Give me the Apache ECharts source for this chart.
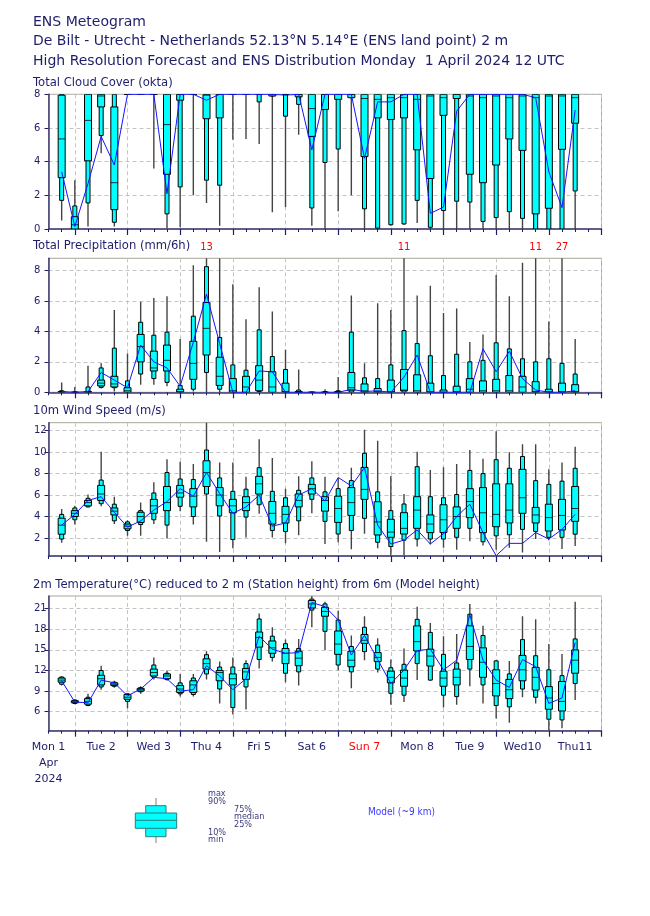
<!DOCTYPE html>
<html><head><meta charset="utf-8">
<script src="https://cdn.jsdelivr.net/npm/echarts@6/dist/echarts.min.js"></script>
<style>html,body{margin:0;padding:0;background:#fff}#c{width:650px;height:916px}</style>
</head><body><div id="c"></div>
<script>
// Forecast steps (hours after Mon 1 April 2024 12 UTC)
const steps = ['0','6','12','18','24','30','36','42','48','54','60','66','72','78','84','90','96','102','108','114','120','126','132','138','144','150','156','162','168','174','180','186','192','198','204','210','216','222','228','234','240','246','252'];
const dayLabels = ['Mon 1','Tue 2','Wed 3','Thu 4','Fri 5','Sat 6','Sun 7','Mon 8','Tue 9','Wed10','Thu11'];
const cloudTicks = [0,2,4,6,8];
const precipTicks = [0,2,4,6,8];
const windTicks = [2,4,6,8,10,12];
const tempTicks = [6,9,12,15,18,21];

// ENS distribution rows: [min, p10, p25, median, p75, p90, max] for steps 6h..240h
const cloudBoxes = [
[0.5,1.7,3.05,5.35,7.95,8,8],[0,0,0,0.25,0.73,1.37,2.9],[0.15,1.55,4.05,6.45,8,8,8],[4.5,5.55,7.25,7.9,8,8,8],
[0.15,0.4,1.15,2.75,7.25,8,8],[8,8,8,8,8,8,8],[8,8,8,8,8,8,8],[3.6,8,8,8,8,8,8],
[0.05,0.9,3.25,6.2,8,8,8],[0.1,2.5,7.65,8,8,8,8],[2.0,8,8,8,8,8,8],[1.55,2.9,6.55,7.95,8,8,8],
[0.2,2.6,6.6,8,8,8,8],[5.3,8,8,8,8,8,8],[5.35,8,8,8,8,8,8],[5.05,7.55,8,8,8,8,8],
[1.0,7.9,7.9,8,8,8,8],[1.3,6.7,8,8,8,8,8],[5.6,7.4,7.85,8,8,8,8],[0.2,1.25,5.5,7.15,8,8,8],
[0,3.95,7.1,8,8,8,8],[1.05,4.75,7.7,8,8,8,8],[2.0,7.8,7.8,8,8,8,8],[0,1.2,4.3,7.75,8,8,8],
[0,0.05,6.6,7.7,8,8,8],[0.2,0.25,6.5,7.8,8,8,8],[0.25,0.3,6.6,7.8,8,8,8],[0.35,1.7,4.7,7.7,8,8,8],
[0,0.1,3.0,7.9,8,8,8],[0,1.1,6.75,7.8,8,8,8],[0,1.65,7.75,8,8,8,8],[0,1.6,3.25,7.9,8,8,8],
[0,0.45,2.75,7.8,8,8,8],[0,0.68,3.8,7.9,8,8,8],[0,1.03,5.35,7.8,8,8,8],[0,0.63,4.67,7.9,8,8,8],
[0,0,0.9,7.8,8,8,8],[0,0,1.23,7.9,8,8,8],[0,0,4.73,7.9,8,8,8],[0,2.26,6.28,7.8,8,8,8]
];
const cloudHres = [3.4,0.15,2.7,5.5,3.8,8,8,8,2.1,8,8,7.65,8,8,8,8,8,7.95,8,4.7,8,8,8,4.2,7.55,7.55,8,8,0.93,1.3,7.0,8,8,8,8,8,7.8,3.4,1.27,7.07];

const precipBoxes = [
[0,0,0,0.02,0.05,0.1,0.65],[0,0,0,0,0,0.02,0.35],[0,0,0,0,0.05,0.35,1.75],[0.25,0.32,0.42,0.6,0.8,1.6,1.9],
[0.05,0.3,0.35,0.55,1.05,2.9,5.4],[0,0,0,0.1,0.3,0.75,2.55],[0.5,1.2,2.0,3.0,3.8,4.6,5.95],[0.5,0.9,1.4,1.6,2.7,3.75,6.2],
[0.4,0.65,1.4,2.1,3.1,3.95,6.3],[0,0,0,0.05,0.2,0.45,3.5],[0.05,0.2,0.85,1.9,3.35,5.0,8.35],[0,1.3,2.45,4.2,5.9,8.25,13],
[0,0.2,0.45,1.05,2.3,3.6,8.8],[0,0,0,0.1,0.9,1.8,7.1],[0,0,0,0.35,1.05,1.45,4.8],[0,0.05,0.1,0.8,1.75,4.1,6.9],
[0,0,0,0.35,1.35,2.35,5.3],[0,0,0,0.05,0.6,1.5,2.8],[0,0,0,0,0.05,0.15,1.5],[0,0,0,0,0,0,0.05],
[0,0,0,0,0,0.05,0.2],[0,0,0,0,0.05,0.1,1.0],[0,0,0.1,0.3,1.3,3.95,6.35],[0,0,0,0.1,0.55,0.95,1.9],
[0,0,0,0.05,0.25,0.9,5.85],[0,0,0,0.05,0.8,1.8,5.4],[0,0,0.1,0.15,1.5,4.05,11],[0,0,0,0.1,1.15,3.2,6.35],
[0,0,0,0.05,0.6,2.4,7.0],[0,0,0,0,0.15,1.1,5.2],[0,0,0,0.05,0.4,2.5,5.5],[0,0,0,0.2,0.9,2.0,3.3],
[0,0,0,0.1,0.75,2.1,3.8],[0,0,0,0.1,0.85,3.25,7.7],[0,0,0,0.1,1.1,2.85,6.3],[0,0,0,0.35,1.05,2.2,8.5],
[0,0,0,0.05,0.7,2.0,11],[0,0,0,0.05,0.2,2.2,4.65],[0,0,0,0.05,0.6,1.9,27],[0,0,0,0.05,0.5,1.2,3.5]
];
const precipHres = [0.05,0,0.05,1.3,0.8,0.3,3.1,2.0,1.6,0.4,3.3,6.45,3.2,0,0,1.4,1.35,0,0,0,0,0,0.2,0.05,0.1,0,1.0,2.45,0,0,0,0,2.85,1.35,2.7,0.9,0.15,0,0,0.1];

const windBoxes = [
[1.55,1.9,2.35,3.2,3.85,4.2,4.7],[3.25,3.7,4.0,4.3,4.55,4.8,5.0],[4.85,4.9,5.0,5.3,5.5,5.7,6.05],[4.95,5.2,5.5,6.1,6.9,7.4,10.05],
[3.3,3.6,4.15,4.5,4.8,5.15,5.85],[2.2,2.7,2.85,3.1,3.3,3.5,3.65],[2.2,3.25,3.45,4.0,4.4,4.55,5.3],[3.3,3.7,4.3,5.0,5.6,6.2,7.2],
[1.95,3.2,4.55,5.3,6.8,8.1,9.35],[4.5,4.95,5.8,6.2,6.9,7.5,9.1],[3.25,4.0,4.9,5.9,6.6,7.45,8.9],[1.65,6.1,6.8,8.1,9.2,10.2,13],
[0.7,4.05,5.0,6.0,6.7,7.6,9.05],[1.05,1.85,4.35,5.0,5.6,6.35,9.05],[2.05,3.95,4.55,5.3,5.85,6.55,7.7],[4.25,5.1,6.1,7.05,7.75,8.55,11.2],
[2.05,2.7,3.3,4.3,5.4,6.35,9.45],[1.5,2.6,3.4,4.2,4.95,5.75,6.6],[2.25,3.6,4.9,5.5,6.1,6.45,7.75],[4.3,5.6,6.1,6.6,7.0,7.6,9.15],
[1.45,3.55,4.5,5.5,5.85,6.3,7.7],[1.6,2.37,3.45,4.75,5.9,6.6,7.6],[0.95,2.7,4.1,5.3,6.7,7.35,8.55],[2.4,3.83,5.6,6.53,8.58,9.9,12.1],
[1.04,1.6,2.28,3.5,5.38,6.3,11.07],[0.4,1.2,2.06,2.55,3.74,4.55,7.78],[0.4,1.8,2.37,2.9,4.36,5.17,6.1],[1.2,1.9,2.9,4.6,5.85,8.65,10.04],
[1.4,1.9,2.5,3.3,4.15,5.85,8.35],[1.1,1.9,2.5,3.7,5.1,5.75,8.6],[0.9,2.06,2.9,4.0,4.9,6.05,8.9],[1.7,2.9,3.9,5.4,6.6,8.3,10.2],
[1.3,1.65,2.5,4.35,6.7,8.0,9.4],[0.9,2.2,3.05,4.2,7.05,9.3,11.95],[1.1,2.3,3.4,4.6,7.05,8.5,10.0],[0.65,2.8,4.3,5.75,8.4,9.6,10.75],
[1.9,2.6,3.4,4.15,4.85,7.35,10.75],[1.8,2.06,2.65,3.9,5.15,7.0,8.4],[0.97,2.06,2.75,4.1,5.6,7.3,9.05],[1.25,2.35,3.55,4.75,6.8,8.5,10.5]
];
const windHres = [3.2,4.2,5.5,5.85,4.4,3.0,3.6,4.6,5.4,6.6,5.9,8.1,6.15,4.3,4.9,6.0,3.1,3.4,6.0,6.6,5.45,7.65,6.85,8.55,3.2,1.44,1.8,2.75,1.44,2.4,4.0,5.15,2.5,0.35,1.5,1.5,2.5,1.9,2.8,4.2];

const tempBoxes = [
[9.8,10.0,10.3,10.6,10.9,11.05,11.15],[7.1,7.2,7.3,7.45,7.6,7.7,7.8],[6.8,6.9,7.1,7.5,7.9,8.1,8.6],[9.2,9.6,9.9,10.8,11.3,12.0,12.7],
[9.5,9.7,9.8,10.0,10.2,10.3,10.5],[6.5,7.5,7.8,8.1,8.5,8.6,8.7],[8.6,8.9,9.0,9.2,9.4,9.5,9.7],[10.7,11.0,11.2,11.7,12.2,12.8,13.9],
[10.5,10.7,10.8,11.2,11.5,11.6,12.0],[8.2,8.6,8.8,9.3,9.8,10.2,11.5],[8.2,8.5,8.8,9.9,10.5,10.9,11.5],[10.7,11.5,12.2,13.0,13.7,14.3,14.8],
[7.2,9.3,10.5,11.7,12.0,12.5,13.3],[5.6,6.6,9.9,10.8,11.5,12.5,13.9],[6.3,9.6,10.7,11.8,12.3,13.0,13.5],[12.3,13.6,15.4,16.8,17.6,19.5,20.3],
[13.3,13.9,14.5,15.3,16.3,17.0,18.3],[10.3,11.6,13.0,14.5,15.2,15.9,16.5],[9.8,11.8,12.7,13.8,14.8,15.2,16.6],[18.3,20.8,21.1,21.7,22.2,22.4,22.9],
[15.0,17.7,19.9,20.6,21.2,21.7,22.0],[12.05,12.8,14.35,15.85,17.75,19.35,20.7],[9.4,11.8,12.55,13.5,14.8,15.5,17.1],[13.5,14.75,15.95,16.4,17.25,18.3,19.9],
[11.7,12.2,13.3,13.9,14.6,15.7,16.7],[7.0,8.67,10.2,11.0,11.9,12.4,13.6],[7.4,8.4,9.7,10.9,12.05,12.9,15.2],[10.6,13.0,14.85,16.2,18.5,19.45,21.3],
[10.5,10.6,12.65,14.1,15.1,17.55,18.9],[6.6,8.4,9.7,10.9,11.9,14.35,17.0],[7.0,8.2,9.9,11.0,12.2,13.1,17.3],[9.7,12.2,13.6,15.5,18.5,20.2,21.7],
[7.2,9.9,11.0,13.2,15.3,17.1,18.5],[5.0,6.9,8.3,10.1,12.1,13.4,13.5],[4.4,6.7,7.9,9.2,10.7,11.5,13.4],[8.1,9.3,10.5,12.1,14.2,16.5,19.9],
[7.2,8.1,9.15,11.0,12.45,14.15,19.45],[3.3,4.9,6.35,8.0,9.65,12.1,15.85],[3.6,4.8,6.1,7.5,10.4,11.25,14.4],[7.7,10.1,11.6,13.5,15.0,16.6,22.0]
];
const tempHres = [10.5,7.4,7.3,10.6,10.2,8.3,9.3,11.0,10.8,9.0,9.2,12.7,11.2,9.2,10.8,17.0,15.1,14.5,14.6,21.9,21.3,19.35,14.25,17.1,13.6,10.1,12.07,14.9,15.1,12.07,13.5,20.1,13.5,10.6,9.54,13.6,12.55,7.2,8.0,16.05];

const NAVY = '#1d1d6b';
const FONT = 'DejaVu Sans';
const chart = echarts.init(document.getElementById('c'), null, {renderer:'canvas'});

const panels = [
  {boxes: cloudBoxes, hres: cloudHres, top: 94.3, height: 134.7, min: 0, max: 8, ticks: cloudTicks},
  {boxes: precipBoxes, hres: precipHres, top: 258.3, height: 134, min: 0, max: 8.8, ticks: precipTicks},
  {boxes: windBoxes, hres: windHres, top: 422.7, height: 133.3, min: 0.32, max: 12.75, ticks: windTicks},
  {boxes: tempBoxes, hres: tempHres, top: 596, height: 134.7, min: 3.23, max: 22.85, ticks: tempTicks}
];

function renderBox(params, api) {
  const x = api.value(0);
  const ys = [1,2,3,4,5,6,7].map(k => api.coord([x, api.value(k)])[1]);
  const cx = api.coord([x, api.value(1)])[0];
  return {type:'group', children:[
    {type:'line', shape:{x1:cx, y1:ys[0], x2:cx, y2:ys[6]}, style:{stroke:'#444', lineWidth:1.4}},
    {type:'rect', shape:{x:cx-2, y:ys[5], width:4, height:ys[1]-ys[5]}, style:{fill:'#00ffff', stroke:'#000', lineWidth:1}},
    {type:'rect', shape:{x:cx-3.5, y:ys[4], width:7, height:ys[2]-ys[4]}, style:{fill:'#00ffff', stroke:'#000', lineWidth:1}},
    {type:'line', shape:{x1:cx-3.5, y1:ys[3], x2:cx+3.5, y2:ys[3]}, style:{stroke:'#000', lineWidth:0.8}}
  ]};
}

const grid = [], xAxis = [], yAxis = [], series = [];
panels.forEach((p, k) => {
  grid.push({left:48.5, top:p.top, width:553, height:p.height, show:true, borderColor:'#aaa597', borderWidth:1, backgroundColor:'transparent'});
  const last = k === 3;
  xAxis.push({type:'category', gridIndex:k, data:steps, boundaryGap:false, position:'bottom',
    axisLine:{show:true, onZero:false, lineStyle:{color:'#3a3a78', width:1.5}},
    axisTick:{show:true, interval:0, length:3, lineStyle:{color:NAVY}},
    splitLine:{show:false},
    axisLabel:{show:last, interval:0, margin:8, color:NAVY, fontFamily:FONT, fontSize:11, lineHeight:16,
      formatter:(v, i) => {
        if (i % 4 !== 0 || i > 40) return '';
        const lab = dayLabels[i/4];
        if (i === 0) return lab + '\nApr\n2024';
        if (lab === 'Sun 7') return '{r|' + lab + '}';
        return lab;
      },
      rich:{r:{color:'#ff0000', fontFamily:FONT, fontSize:11, lineHeight:16}}
    }});
  xAxis.push({type:'category', gridIndex:k, data:steps, boundaryGap:false, position:'bottom',
    axisLine:{show:false, onZero:false},
    axisTick:{show:true, interval:(i)=> i % 4 === 2, length:6, lineStyle:{color:NAVY, width:1.2}},
    splitLine:{show:true, interval:(i)=> i % 4 === 2, lineStyle:{color:'#c4c4c4', type:[4,3], width:1}},
    axisLabel:{show:false}});
  yAxis.push({type:'value', gridIndex:k, min:p.min, max:p.max,
    axisLine:{show:true, onZero:false, lineStyle:{color:'#3a3a78', width:1.5}},
    axisTick:{show:true, length:4, customValues:p.ticks, lineStyle:{color:NAVY}},
    axisLabel:{customValues:p.ticks, align:'left', margin:14.5, color:NAVY, fontFamily:FONT, fontSize:10},
    splitLine:{show:true, lineStyle:{color:'#c4c4c4', type:[4,3], width:1}}});
  series.push({type:'custom', xAxisIndex:2*k, yAxisIndex:k, clip:true, renderItem:renderBox,
    encode:{x:0, y:[1,2,3,4,5,6,7]},
    data:p.boxes.map((r, i) => [i+1].concat(r)), z:2});
  series.push({type:'line', xAxisIndex:2*k, yAxisIndex:k, showSymbol:false, symbol:'none',
    lineStyle:{color:'#1414ff', width:1}, data:p.hres.map((v, i) => [i+1, v]), z:3, animation:false});
});

// Off-scale maxima for precipitation, written above the panel
const offScale = precipBoxes.map((r, i) => [i+1, r[6]]).filter(d => d[1] > panels[1].max);
series.push({type:'custom', xAxisIndex:2, yAxisIndex:1, clip:false, z:4,
  data: offScale,
  renderItem:(params, api) => {
    const c = api.coord([api.value(0), panels[1].max]);
    return {type:'text', x:c[0], y:c[1]-11, style:{text:String(api.value(1)), fill:'#ff0000', font:'10px "DejaVu Sans"', align:'center', verticalAlign:'middle'}};
  }});

const PT = {color:NAVY, fontFamily:FONT, fontSize:11.6, fontWeight:'normal', lineHeight:14};
const title = [
  {text:'ENS Meteogram\nDe Bilt - Utrecht - Netherlands 52.13°N 5.14°E (ENS land point) 2 m\nHigh Resolution Forecast and ENS Distribution Monday  1 April 2024 12 UTC',
   left:33, top:12.5, padding:0, textStyle:{color:NAVY, fontFamily:FONT, fontSize:14, fontWeight:'normal', lineHeight:19.5}},
  {text:'Total Cloud Cover (okta)', left:33, top:76.3, padding:0, textStyle:PT},
  {text:'Total Precipitation (mm/6h)', left:33, top:238.5, padding:0, textStyle:PT},
  {text:'10m Wind Speed (m/s)', left:33, top:404, padding:0, textStyle:PT},
  {text:'2m Temperature(°C) reduced to 2 m (Station height) from 6m (Model height)', left:33, top:578, padding:0, textStyle:PT}
];

const LF = '9px "DejaVu Sans Condensed", "DejaVu Sans"';
const graphic = [
  {type:'line', shape:{x1:156, y1:798, x2:156, y2:843}, style:{stroke:'#aaaaaa', lineWidth:1.5}},
  {type:'rect', shape:{x:145.7, y:805.7, width:20.3, height:31}, style:{fill:'#00ffff', stroke:'#2a7f7f', lineWidth:1}},
  {type:'rect', shape:{x:135.3, y:813, width:41.4, height:15.3}, style:{fill:'#00ffff', stroke:'#2a7f7f', lineWidth:1}},
  {type:'line', shape:{x1:135.3, y1:820.3, x2:176.7, y2:820.3}, style:{stroke:'#2a7f7f', lineWidth:1}},
  {type:'text', x:208, y:794, style:{text:'max', font:LF, fill:'#3a3a7a', verticalAlign:'middle'}},
  {type:'text', x:208, y:801.5, style:{text:'90%', font:LF, fill:'#3a3a7a', verticalAlign:'middle'}},
  {type:'text', x:234, y:809.3, style:{text:'75%', font:LF, fill:'#3a3a7a', verticalAlign:'middle'}},
  {type:'text', x:234, y:817, style:{text:'median', font:LF, fill:'#3a3a7a', verticalAlign:'middle'}},
  {type:'text', x:234, y:824.5, style:{text:'25%', font:LF, fill:'#3a3a7a', verticalAlign:'middle'}},
  {type:'text', x:208, y:832.3, style:{text:'10%', font:LF, fill:'#3a3a7a', verticalAlign:'middle'}},
  {type:'text', x:208, y:840, style:{text:'min', font:LF, fill:'#3a3a7a', verticalAlign:'middle'}},
  {type:'text', x:368, y:812.5, style:{text:'Model (~9 km)', font:'10px "DejaVu Sans Condensed", "DejaVu Sans"', fill:'#3b3bff', verticalAlign:'middle'}}
];

chart.setOption({animation:false, backgroundColor:'#fff', title, grid, xAxis, yAxis, series, graphic});
</script></body></html>
